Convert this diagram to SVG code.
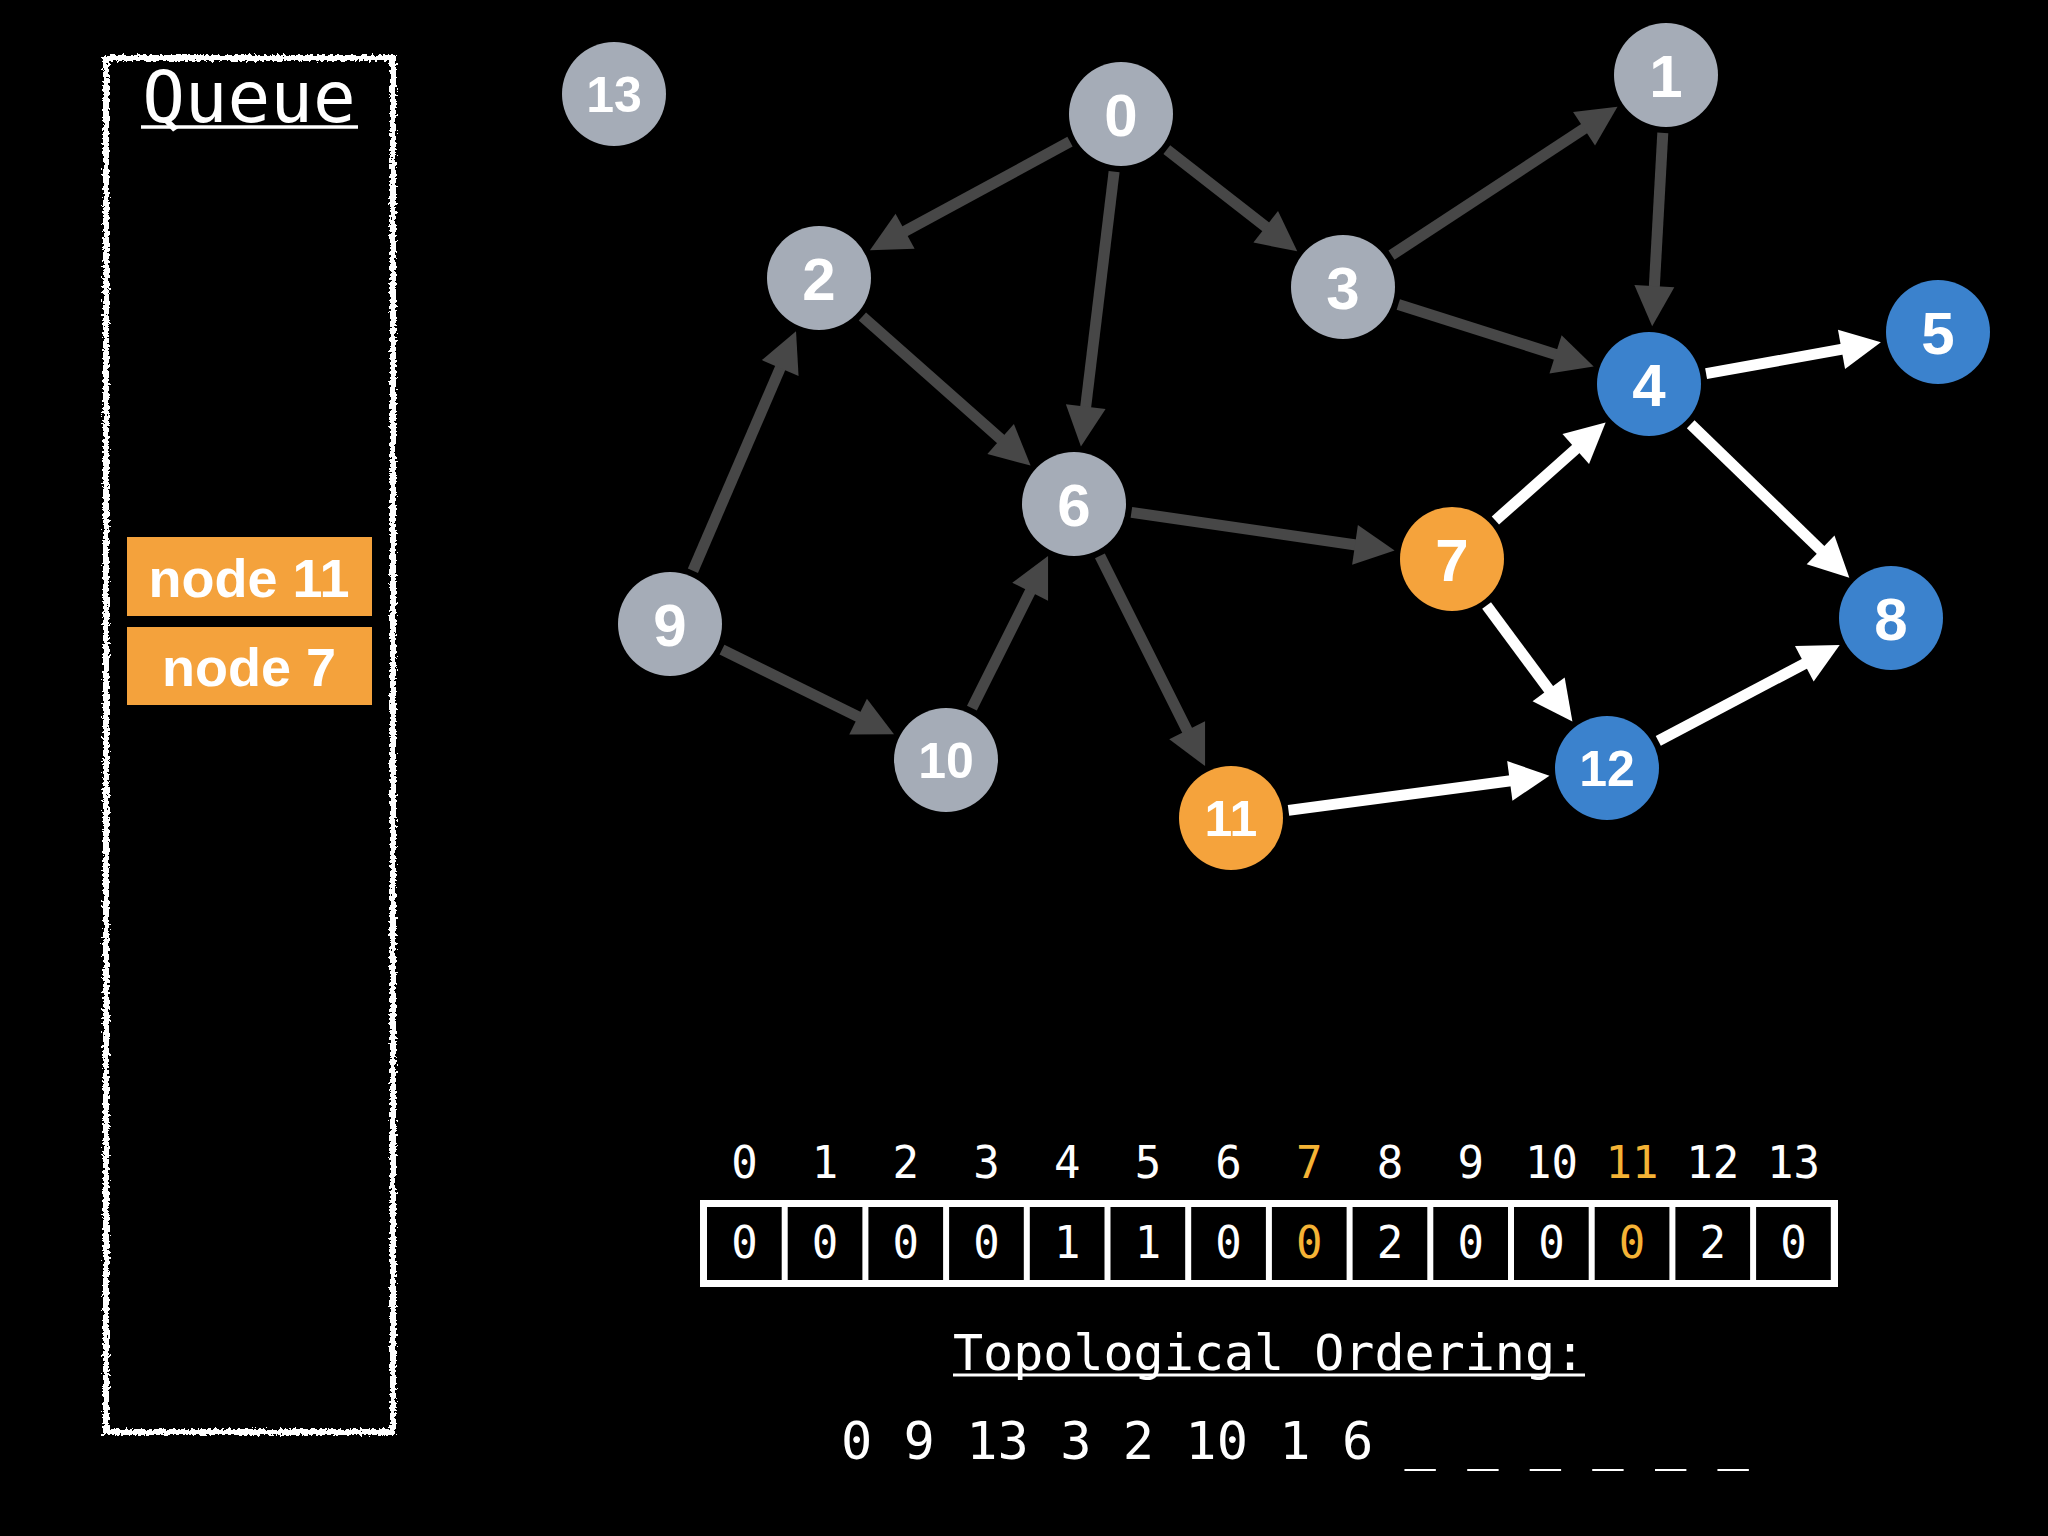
<svg xmlns="http://www.w3.org/2000/svg" width="2048" height="1536" viewBox="0 0 2048 1536">
<defs>
<style>
.bg{fill:#000}
.gray{fill:#a5acb7}
.blue{fill:#3b82cd}
.orange{fill:#f5a33c}
.nl{font-family:"Liberation Sans",Arial,sans-serif;font-weight:bold;fill:#fff;text-anchor:middle}
.n1{font-size:60px}
.n2{font-size:50px}
.eg{stroke:#474747;stroke-width:11;fill:none;marker-end:url(#ag)}
.ew{stroke:#fff;stroke-width:11;fill:none;marker-end:url(#aw)}
.mono{font-family:"DejaVu Sans Mono","Liberation Mono",monospace;fill:#fff}
.idx{font-size:44px;text-anchor:middle}
.hl{fill:#f5b335}
.qt{font-family:"Liberation Sans",Arial,sans-serif;font-weight:bold;font-size:54px;fill:#fff;text-anchor:middle}
.qr{fill:#f4a23c}
</style>
<marker id="ag" markerUnits="userSpaceOnUse" markerWidth="42" markerHeight="42" refX="1" refY="20" orient="auto" overflow="visible"><path d="M0,0 L40,20 L0,40 z" fill="#474747"/></marker>
<marker id="aw" markerUnits="userSpaceOnUse" markerWidth="42" markerHeight="42" refX="1" refY="20" orient="auto" overflow="visible"><path d="M0,0 L40,20 L0,40 z" fill="#fff"/></marker>
<filter id="rough" x="-10%" y="-2%" width="120%" height="104%">
<feTurbulence type="fractalNoise" baseFrequency="0.35" numOctaves="2" seed="4" result="n"/>
<feDisplacementMap in="SourceGraphic" in2="n" scale="7" xChannelSelector="R" yChannelSelector="G"/>
</filter>
</defs>
<rect class="bg" x="0" y="0" width="2048" height="1536"/>

<g id="queue">
<rect x="106" y="58" width="287" height="1374" fill="none" stroke="#fff" stroke-width="6" filter="url(#rough)"/>
<text class="mono" x="249" y="122" font-size="71" text-anchor="middle">Queue</text>
<line x1="141" y1="127" x2="358" y2="127" stroke="#fff" stroke-width="3.5"/>
<g id="q-node11"><rect class="qr" x="127" y="537" width="245" height="79"/><text class="qt" x="249" y="597">node 11</text></g>
<g id="q-node7"><rect class="qr" x="127" y="627" width="245" height="78"/><text class="qt" x="249" y="686">node 7</text></g>
</g>

<g id="connectors">
<line class="eg" x1="1070.0" y1="141.7" x2="904.2" y2="231.7"/>
<line class="eg" x1="1114.1" y1="171.6" x2="1085.6" y2="407.7"/>
<line class="eg" x1="1166.8" y1="149.7" x2="1266.5" y2="227.4"/>
<line class="eg" x1="1391.5" y1="255.2" x2="1584.9" y2="128.2"/>
<line class="eg" x1="1662.8" y1="132.9" x2="1654.3" y2="287.2"/>
<line class="eg" x1="1398.3" y1="304.5" x2="1556.5" y2="354.7"/>
<line class="eg" x1="862.4" y1="316.5" x2="1001.4" y2="439.7"/>
<line class="eg" x1="692.9" y1="570.7" x2="780.6" y2="367.1"/>
<line class="eg" x1="722.0" y1="649.6" x2="859.0" y2="717.1"/>
<line class="eg" x1="971.9" y1="708.1" x2="1030.6" y2="590.8"/>
<line class="eg" x1="1131.4" y1="512.4" x2="1356.0" y2="545.0"/>
<line class="eg" x1="1099.9" y1="555.9" x2="1187.6" y2="731.2"/>
<line class="ew" x1="1495.4" y1="520.5" x2="1576.5" y2="448.4"/>
<line class="ew" x1="1706.1" y1="373.7" x2="1842.5" y2="349.2"/>
<line class="ew" x1="1690.7" y1="424.3" x2="1821.3" y2="550.6"/>
<line class="ew" x1="1486.6" y1="605.6" x2="1549.2" y2="690.1"/>
<line class="ew" x1="1288.5" y1="810.4" x2="1510.8" y2="780.8"/>
<line class="ew" x1="1658.3" y1="740.9" x2="1805.2" y2="663.3"/>
</g>

<g id="node0"><circle class="gray" cx="1121" cy="114" r="52"/><text class="nl n1" x="1121" y="136">0</text></g>
<g id="node1"><circle class="gray" cx="1666" cy="75" r="52"/><text class="nl n1" x="1666" y="97">1</text></g>
<g id="node2"><circle class="gray" cx="819" cy="278" r="52"/><text class="nl n1" x="819" y="300">2</text></g>
<g id="node3"><circle class="gray" cx="1343" cy="287" r="52"/><text class="nl n1" x="1343" y="309">3</text></g>
<g id="node4"><circle class="blue" cx="1649" cy="384" r="52"/><text class="nl n1" x="1649" y="406">4</text></g>
<g id="node5"><circle class="blue" cx="1938" cy="332" r="52"/><text class="nl n1" x="1938" y="354">5</text></g>
<g id="node6"><circle class="gray" cx="1074" cy="504" r="52"/><text class="nl n1" x="1074" y="526">6</text></g>
<g id="node7"><circle class="orange" cx="1452" cy="559" r="52"/><text class="nl n1" x="1452" y="581">7</text></g>
<g id="node8"><circle class="blue" cx="1891" cy="618" r="52"/><text class="nl n1" x="1891" y="640">8</text></g>
<g id="node9"><circle class="gray" cx="670" cy="624" r="52"/><text class="nl n1" x="670" y="646">9</text></g>
<g id="node10"><circle class="gray" cx="946" cy="760" r="52"/><text class="nl n2" x="946" y="778">10</text></g>
<g id="node11"><circle class="orange" cx="1231" cy="818" r="52"/><text class="nl n2" x="1231" y="836">11</text></g>
<g id="node12"><circle class="blue" cx="1607" cy="768" r="52"/><text class="nl n2" x="1607" y="786">12</text></g>
<g id="node13"><circle class="gray" cx="614" cy="94" r="52"/><text class="nl n2" x="614" y="112">13</text></g>

<g id="indegree">
<rect x="700" y="1200" width="1138" height="87" fill="#fff"/>
<g fill="#000">
<rect x="707" y="1207" width="74.7" height="73"/>
<rect x="787.7" y="1207" width="74.7" height="73"/>
<rect x="868.4" y="1207" width="74.7" height="73"/>
<rect x="949.1" y="1207" width="74.7" height="73"/>
<rect x="1029.8" y="1207" width="74.7" height="73"/>
<rect x="1110.5" y="1207" width="74.7" height="73"/>
<rect x="1191.2" y="1207" width="74.7" height="73"/>
<rect x="1271.9" y="1207" width="74.7" height="73"/>
<rect x="1352.6" y="1207" width="74.7" height="73"/>
<rect x="1433.3" y="1207" width="74.7" height="73"/>
<rect x="1514.0" y="1207" width="74.7" height="73"/>
<rect x="1594.7" y="1207" width="74.7" height="73"/>
<rect x="1675.4" y="1207" width="74.7" height="73"/>
<rect x="1756.1" y="1207" width="74.7" height="73"/>
</g>
<g class="mono idx">
<text x="744.4" y="1178">0</text>
<text x="825.1" y="1178">1</text>
<text x="905.8" y="1178">2</text>
<text x="986.5" y="1178">3</text>
<text x="1067.2" y="1178">4</text>
<text x="1147.9" y="1178">5</text>
<text x="1228.6" y="1178">6</text>
<text x="1309.3" y="1178" class="hl">7</text>
<text x="1390.0" y="1178">8</text>
<text x="1470.7" y="1178">9</text>
<text x="1551.4" y="1178">10</text>
<text x="1632.1" y="1178" class="hl">11</text>
<text x="1712.8" y="1178">12</text>
<text x="1793.5" y="1178">13</text>
<text x="744.4" y="1258">0</text>
<text x="825.1" y="1258">0</text>
<text x="905.8" y="1258">0</text>
<text x="986.5" y="1258">0</text>
<text x="1067.2" y="1258">1</text>
<text x="1147.9" y="1258">1</text>
<text x="1228.6" y="1258">0</text>
<text x="1309.3" y="1258" class="hl">0</text>
<text x="1390.0" y="1258">2</text>
<text x="1470.7" y="1258">0</text>
<text x="1551.4" y="1258">0</text>
<text x="1632.1" y="1258" class="hl">0</text>
<text x="1712.8" y="1258">2</text>
<text x="1793.5" y="1258">0</text>
</g>
</g>

<g id="ordering">
<text class="mono" x="953" y="1370" font-size="50">Topological Ordering:</text>
<line x1="953" y1="1375" x2="1585" y2="1375" stroke="#fff" stroke-width="3"/>
<text class="mono" x="841" y="1459" font-size="52" xml:space="preserve">0 9 13 3 2 10 1 6 _ _ _ _ _ _</text>
</g>
</svg>
